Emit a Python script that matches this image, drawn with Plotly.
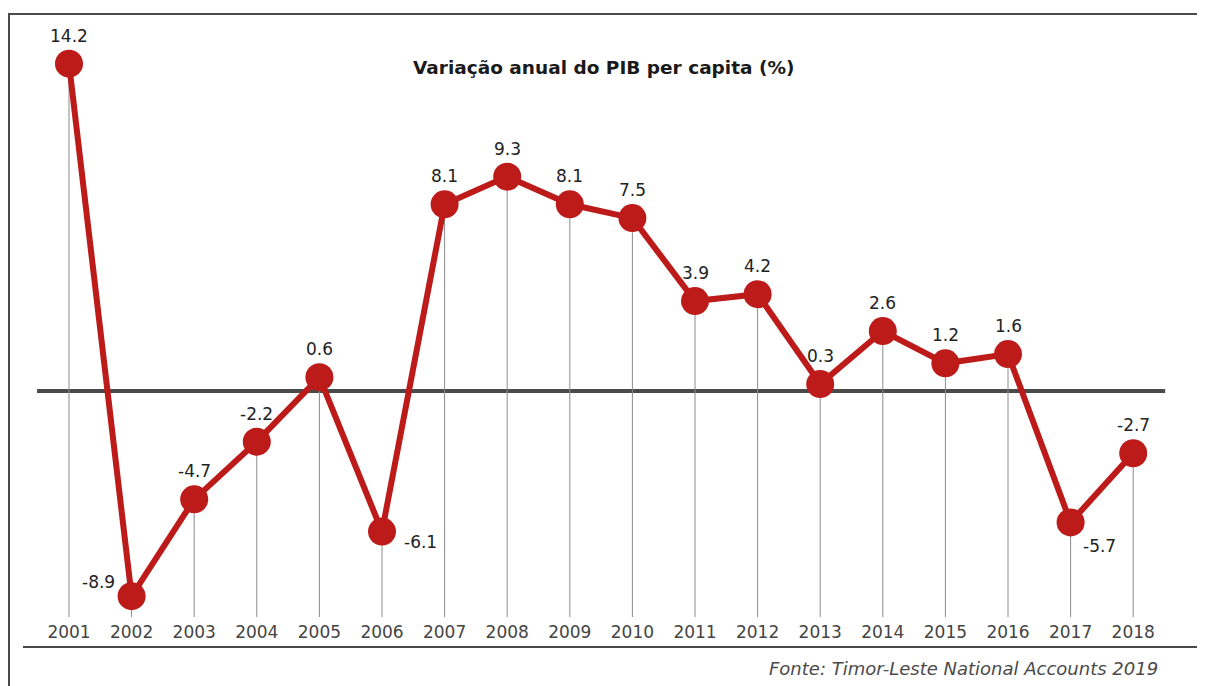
import plotly.graph_objects as go

years = list(range(2001, 2019))
pib_variacao = [14.2, -8.9, -4.7, -2.2, 0.6, -6.1, 8.1, 9.3, 8.1, 7.5,
                3.9, 4.2, 0.3, 2.6, 1.2, 1.6, -5.7, -2.7]
titulo = "Variação anual do PIB per capita (%)"
fonte = "Fonte: Timor-Leste National Accounts 2019"

# the page body has an 8px margin, so the figure sits at (8, 8)
OFF = 8
W, H = 1205 - OFF, 686 - OFF
PLOT_BOTTOM = 617 - OFF     # pixel row of the bottom of the plot area
Y_MIN = -9.805
Y_MAX = Y_MIN + PLOT_BOTTOM / 23.05
PX_PER_YEAR = 62.6
X_MIN = 2001 - (69 - OFF) / PX_PER_YEAR
X_MAX = X_MIN + W / PX_PER_YEAR

RED = "#bd1a1a"
DARK = "#4a4a4a"
FONT = "DejaVu Sans"

# label offsets (px) for the few labels not sitting above their point
label_shift = {2002: (-33, 14), 2006: (38, -10), 2017: (29, -24)}


def px_x(p):
    return (p - OFF) / W


def px_y(p):
    return (PLOT_BOTTOM - (p - OFF)) / PLOT_BOTTOM


# drop lines from each point to the bottom of the plot
drop_x, drop_y = [], []
for yr, v in zip(years, pib_variacao):
    drop_x += [yr, yr, None]
    drop_y += [v, Y_MIN, None]

fig = go.Figure()
fig.add_trace(go.Scatter(x=drop_x, y=drop_y, mode="lines",
                         line=dict(color="#8a8a8a", width=1),
                         hoverinfo="skip", showlegend=False))
fig.add_trace(go.Scatter(x=years, y=pib_variacao, mode="lines+markers",
                         line=dict(color=RED, width=6),
                         marker=dict(color=RED, size=28),
                         showlegend=False))

# zero line
fig.add_shape(type="line", xref="x", yref="y", x0=years[0] - 0.51, x1=years[-1] + 0.51,
              y0=0, y1=0, line=dict(color=DARK, width=4), layer="below")

# frame lines
fig.add_shape(type="line", xref="paper", yref="paper", x0=px_x(9), x1=px_x(1210),
              y0=px_y(14), y1=px_y(14), line=dict(color=DARK, width=2))
fig.add_shape(type="line", xref="paper", yref="paper", x0=px_x(9), x1=px_x(9),
              y0=px_y(13), y1=px_y(690), line=dict(color=DARK, width=2))
fig.add_shape(type="line", xref="paper", yref="paper", x0=px_x(23), x1=px_x(1203),
              y0=px_y(647), y1=px_y(647), line=dict(color=DARK, width=2))

for yr, v in zip(years, pib_variacao):
    dx, dy = label_shift.get(yr, (0, 28))
    fig.add_annotation(x=yr, y=v, text=f"{v:.1f}", showarrow=False,
                       xshift=dx, yshift=dy, yanchor="middle",
                       font=dict(family=FONT, size=17, color="#222222"))

fig.add_annotation(x=px_x(603), y=px_y(68), xref="paper", yref="paper",
                   text=f"<b>{titulo}</b>", showarrow=False,
                   xanchor="center", yanchor="middle",
                   font=dict(family=FONT, size=18.5, color="#1a1a1a"))
fig.add_annotation(x=px_x(1160), y=px_y(669), xref="paper", yref="paper",
                   text=f"<i>{fonte}</i>", showarrow=False,
                   xanchor="right", yanchor="middle",
                   font=dict(family=FONT, size=18, color="#4a4a4a"))

fig.update_layout(
    width=W, height=H,
    margin=dict(l=0, r=0, t=0, b=H - PLOT_BOTTOM, pad=0),
    paper_bgcolor="white", plot_bgcolor="white",
    xaxis=dict(range=[X_MIN, X_MAX], tickmode="array", tickvals=years,
               ticktext=[str(y) for y in years], showgrid=False, zeroline=False,
               showline=False, ticks="", ticklabelstandoff=3,
               tickfont=dict(family=FONT, size=17, color="#444444")),
    yaxis=dict(range=[Y_MIN, Y_MAX], visible=False, showgrid=False, zeroline=False),
)

fig.write_html("out.html")
